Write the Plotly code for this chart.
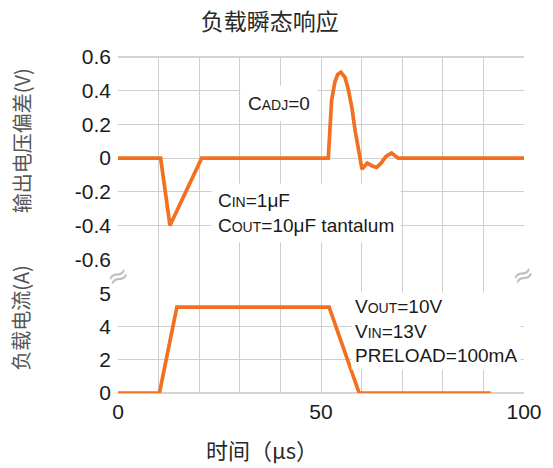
import plotly.graph_objects as go

# Output voltage deviation (V) vs time (us)
time_v = [0, 10.5, 12.8, 20.6, 51.8, 52.6, 53.4, 54.1, 54.9, 55.9, 56.7, 57.6, 58.4,
          59.2, 59.9, 60.1, 60.8, 61.4, 62.5, 63.7, 64.8, 66.0, 67.4, 68.3, 69.0, 100]
v_dev = [0, 0, -0.40, 0, 0, 0.34, 0.45, 0.496, 0.51, 0.48, 0.41, 0.30, 0.164,
         0.046, -0.05, -0.065, -0.045, -0.03, -0.045, -0.055, -0.03, 0.01, 0.03, 0.015, 0, 0]

# Load current vs time (us); the top current tick sits at axis value 6, labelled "5"
time_i = [0, 10.2, 14.5, 52.0, 59.4, 91.8]
i_load = [0, 0, 5.16, 5.16, 0, 0]

x_ticks = list(range(0, 101, 10))
x_tick_text = ["0", "", "", "", "", "50", "", "", "", "", "100"]
v_ticks = [-0.6, -0.4, -0.2, 0, 0.2, 0.4, 0.6]
v_tick_text = ["-0.6", "-0.4", "-0.2", "0", "0.2", "0.4", "0.6"]
i_ticks = [0, 2, 4, 6]
i_tick_text = ["0", "2", "4", "5"]

ORANGE = "#f2701f"
GRID = "#cfcfcf"
LATIN = "Liberation Sans, Arial, sans-serif"
CJK = "Noto Sans CJK SC, sans-serif"
TXT = "#1a1a1a"

fig = go.Figure()
# full-height subplot so vertical grid lines run through the break
fig.add_trace(go.Scatter(x=[None], y=[None], xaxis="x", yaxis="y", showlegend=False,
                         hoverinfo="skip"))
fig.add_trace(go.Scatter(x=time_v, y=v_dev, xaxis="x", yaxis="y2", mode="lines",
                         line=dict(color=ORANGE, width=3.7), showlegend=False))
fig.add_trace(go.Scatter(x=time_i, y=i_load, xaxis="x", yaxis="y3", mode="lines",
                         line=dict(color=ORANGE, width=3.7), showlegend=False))

tick_font = dict(family=LATIN, size=21, color=TXT)

fig.update_layout(
    width=553, height=468,
    margin=dict(l=118, r=29, t=57, b=75),
    paper_bgcolor="white",
    plot_bgcolor="rgba(0,0,0,0)",
    title=dict(text="负载瞬态响应", x=0.488, xanchor="center", y=1 - 22 / 468,
               yanchor="middle", font=dict(family=CJK, size=23, color="#2a2a2a")),
    xaxis=dict(domain=[0, 1], range=[0, 100], anchor="y3", tickmode="array",
               tickvals=x_ticks, ticktext=x_tick_text, showgrid=True, gridcolor=GRID,
               gridwidth=1, zeroline=False, showline=False, ticks="",
               tickfont=tick_font, ticklabelstandoff=4),
    yaxis=dict(domain=[0, 1], range=[0, 1], visible=False, showgrid=False),
    yaxis2=dict(domain=[0.398, 1], range=[-0.6, 0.6], anchor="x", tickmode="array",
                tickvals=v_ticks, ticktext=v_tick_text, showgrid=True, gridcolor=GRID,
                zeroline=False, showline=False, ticks="", tickfont=tick_font,
                ticklabelstandoff=6),
    yaxis3=dict(domain=[0, 0.297], range=[0, 6], anchor="x", tickmode="array",
                tickvals=i_ticks, ticktext=i_tick_text, showgrid=True, gridcolor=GRID,
                zeroline=False, showline=False, ticks="", tickfont=tick_font,
                ticklabelstandoff=6),
)

# outer top and bottom borders of the plot area
for edge in (1, 0):
    fig.add_shape(type="line", xref="paper", yref="paper", x0=0, x1=1, y0=edge, y1=edge,
                  line=dict(color="#c4c4c4", width=1.5), layer="below")

ann_font = dict(family=LATIN, size=19, color=TXT)
SMALL = "<span style='font-size:14px'>{}</span>"


def py(px):
    """Convert a pixel row to a paper y fraction of the plot area."""
    return (393.3 - px) / 336.6


def pxx(px):
    """Convert a pixel column to a paper x fraction of the plot area."""
    return (px - 118) / 406


annotations = [
    # axis titles
    dict(text="输出电压偏差(V)", xref="paper", yref="paper", x=pxx(21), y=py(141),
         xanchor="center", yanchor="middle", textangle=-90, showarrow=False,
         font=dict(family=CJK, size=20, color="#555555")),
    dict(text="负载电流(A)", xref="paper", yref="paper", x=pxx(21), y=py(318),
         xanchor="center", yanchor="middle", textangle=-90, showarrow=False,
         font=dict(family=CJK, size=20, color="#555555")),
    dict(text="时间（μs）", xref="paper", yref="paper", x=pxx(262), y=py(449),
         xanchor="center", yanchor="middle", showarrow=False,
         font=dict(family=CJK, size=22, color="#2a2a2a")),
    # axis break marks
    dict(text="≈", xref="paper", yref="paper", x=pxx(118), y=py(276),
         xanchor="center", yanchor="middle", showarrow=False, textangle=-25,
         font=dict(family="DejaVu Sans", size=26, color="#bdbdbd")),
    dict(text="≈", xref="paper", yref="paper", x=pxx(523), y=py(275),
         xanchor="center", yanchor="middle", showarrow=False, textangle=-25,
         font=dict(family="DejaVu Sans", size=26, color="#bdbdbd")),
    # condition labels
    dict(text="C" + SMALL.format("ADJ") + "=0", xref="x", yref="y2", x=30.0, y=0.324,
         xanchor="left", yanchor="middle", showarrow=False, font=ann_font,
         bgcolor="white", borderpad=7),
    dict(text="C" + SMALL.format("IN") + "=1μF<br>C" + SMALL.format("OUT")
         + "=10μF tantalum", xref="x", yref="y2", x=22.9, y=-0.325,
         xanchor="left", yanchor="middle", align="left", showarrow=False,
         font=ann_font, bgcolor="white", borderpad=6),
    dict(text="V" + SMALL.format("OUT") + "=10V<br>V" + SMALL.format("IN")
         + "=13V<br>PRELOAD=100mA", xref="x", yref="y3", x=57.5, y=3.75,
         xanchor="left", yanchor="middle", align="left", showarrow=False,
         font=ann_font, bgcolor="white", borderpad=3),
]
fig.update_layout(annotations=annotations)

fig.write_html("out.html")
